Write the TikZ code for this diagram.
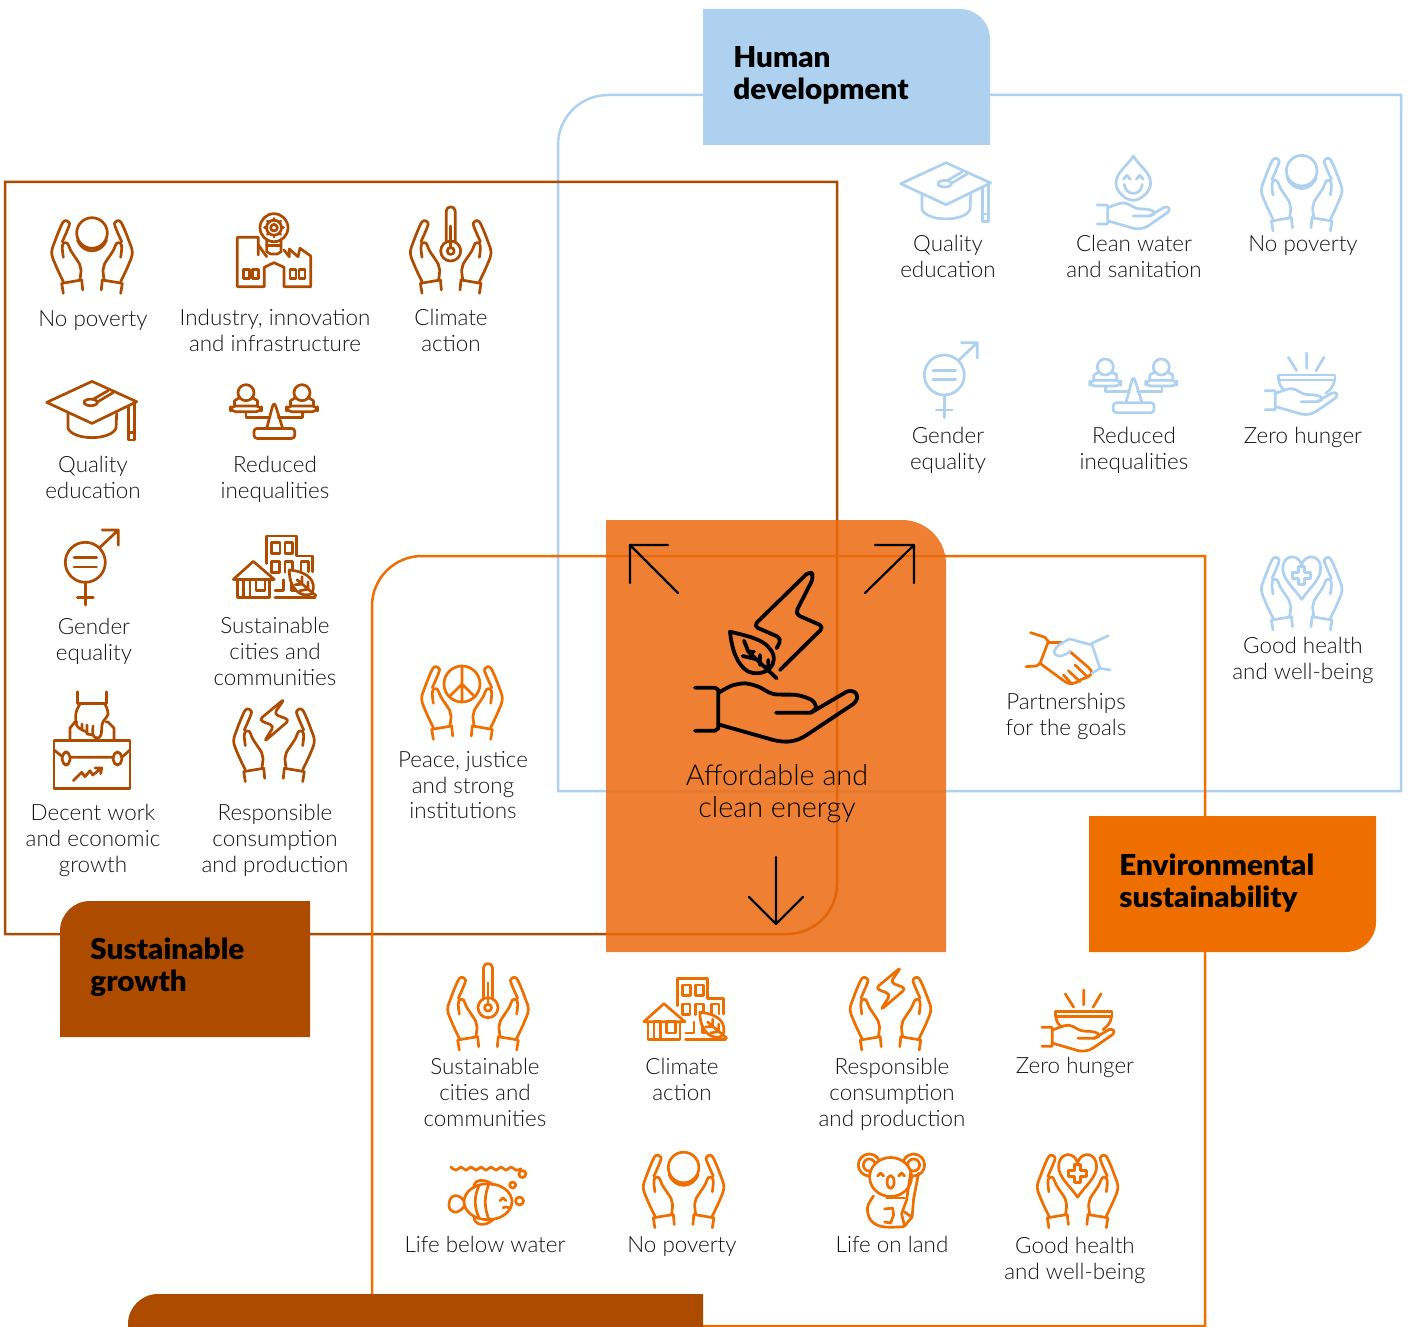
\documentclass[tikz,border=0pt]{standalone}
\usepackage{fontspec}
\setmainfont{Lato}[UprightFont=* Light,BoldFont=* Black,BoldFeatures={FakeStretch=1.03}]
\definecolor{cblue}{HTML}{AED1F0}
\definecolor{cbrown}{HTML}{AD4C00}
\definecolor{corange}{HTML}{EE6F00}
\definecolor{cpanel}{HTML}{EC6A0F}
\definecolor{ctext}{HTML}{141414}
\tikzset{
 iconline/.style={line width=1.35pt,line cap=round,line join=round},
 frameline/.style={line width=1.25pt},
 lab/.style={align=center,text=ctext,inner sep=0pt,yshift=-1.5pt,font=\fontsize{11.2}{12.9}\selectfont,execute at begin node=\strut,execute at end node=\strut},
 biglab/.style={align=center,text=black,inner sep=0pt,font=\fontsize{14.4}{16}\selectfont,execute at begin node=\strut,execute at end node=\strut},
 headlab/.style={align=left,text=black,inner sep=0pt,anchor=west,font=\fontsize{14.4}{16}\selectfont\bfseries},
 sm/.style={smooth,tension=0.6}
}
\newcommand{\IcHandL}{%
 \draw (-28.7,37.3) -- (-30.3,27.3) -- (-10.3,24) -- (-9.3,34);
 \draw plot[sm] coordinates {(-28.7,25.5)(-36,10)(-40.3,-3)(-37,-15)(-30.5,-31)(-27,-35.3)(-23.5,-34)(-23,-30)(-29.7,-14.3)};
 \draw plot[sm] coordinates {(-28.7,1.3)(-29.7,-8)(-28.5,-12.7)(-24.5,-12.7)(-21,-5)(-12.5,8)(-11,14)(-12,23.3)};
}
\newcommand{\IcHands}{\IcHandL\begin{scope}[xscale=-1]\IcHandL\end{scope}}
\newcommand{\IcCoin}{\IcHands
 \draw (0,-23) circle (15.3);
 \draw (-14.5,-16) .. controls (-9,-1.5) and (9,-1.5) .. (14.5,-16);
}
\newcommand{\IcThermo}{\IcHands
 \draw (-4.5,-13.8) -- (-4.5,-45) .. controls (-4.5,-50.5) and (4.5,-50.5) .. (4.5,-45) -- (4.5,-13.8);
 \draw (0,-5) circle (10);
 \draw (0,-5) circle (3.5);
 \draw (0,-8.5) -- (0,-30);
}
\newcommand{\IcBolt}{\IcHands
 \draw[rounded corners=2pt] (10.5,-45.5) -- (-15,-24.3) -- (0,-18.3) -- (-10,-2.5) -- (15.5,-24.3) -- (0,-30.3) -- cycle;
}
\newcommand{\IcHeart}{\IcHands
 \draw (0,6.7) .. controls (-7,-4) and (-19,-13) .. (-19,-24) .. controls (-19,-38) and (-4,-40) .. (0,-28) .. controls (4,-40) and (19,-38) .. (19,-24) .. controls (19,-13) and (7,-4) .. (0,6.7) -- cycle;
 \draw (-3,-26) -- (3,-26) -- (3,-20) -- (9,-20) -- (9,-14) -- (3,-14) -- (3,-8) -- (-3,-8) -- (-3,-14) -- (-9,-14) -- (-9,-20) -- (-3,-20) -- cycle;
}
\newcommand{\IcPeace}{\IcHands
 \draw (0,-18) circle (18);
 \draw (0,-36) -- (0,0) (0,-18) -- (-12.7,-5.3) (0,-18) -- (12.7,-5.3);
}
\newcommand{\IcCap}{%
 \draw (0,-30.3) -- (44.7,-10) -- (0,11.7) -- (-45.3,-9.3) -- cycle;
 \draw (-24,1.7) -- (-24,16.7) .. controls (-18,29) and (18,29) .. (24,16.7) -- (24.7,1.7);
 \draw (36.3,-5.7) -- (36.3,28.3) -- (42.3,28.3) -- (42.3,-7.7);
 \draw (36.3,21) -- (42.3,21);
 \draw (-1.3,-9.3) ellipse (6.7 and 3.3);
 \draw (1,-12.3) -- (16,-21) (5,-9.5) -- (21,-19);
}
\newcommand{\IcScales}{%
 \draw[rounded corners=1.5pt] (-20,26.7) rectangle (20.7,16.7);
 \draw[rounded corners=3pt] (-7.3,16.7) -- (0,-11) -- (8.7,16.7);
 \draw (-28,1) -- (-28,5.7) -- (-4.7,5.7) (4.3,5.7) -- (28.7,5.7) -- (28.7,1);
 \foreach \sx in {-28,28}{
  \draw[rounded corners=2.5pt] (\sx-15.5,-5.7) -- (\sx+15.5,-5.7) -- (\sx+15.5,0) -- (\sx-15.5,0) -- cycle;
  \draw (\sx,-19) circle (8);
  \draw (\sx-11.5,-5.7) -- (\sx-11.5,-11) -- (\sx-6,-14.3) (\sx+6,-14.3) -- (\sx+11.5,-11) -- (\sx+11.5,-5.7);
 }
}
\newcommand{\IcGender}{%
 \draw (0,0) circle (20);
 \draw (-11.3,-4.7) -- (11.3,-4.7) (-11.3,4.7) -- (11.3,4.7);
 \draw (0,20) -- (0,42.7) (-8,35) -- (8,35);
 \draw (14.7,-15) -- (33,-32.3) (17,-32.3) -- (33,-32.3) -- (33,-17);
}
\newcommand{\IcCity}{%
 \draw (-7.3,-3.3) -- (-7.3,-30.7) -- (22.7,-30.7) -- (22.7,-10.7) -- (38.7,-10.7) -- (38.7,5);
 \draw (-2.3,-24) rectangle (6,-13.3) (11,-24) rectangle (18.7,-13.3);
 \draw (-2.3,-5) rectangle (5.3,5.7);
 \draw (11,5.7) -- (11,-5) -- (18.7,-5) -- (18.7,3) (27,5) -- (27,-5) -- (34.3,-5) -- (34.3,5);
 \draw (1,30.7) -- (41,30.7);
 \draw (1,24) -- (9.3,24) -- (9.3,13) (17.7,13) -- (17.7,24) -- (24,24);
 \draw (-40.7,12.7) -- (-20.7,-5.3) -- (0.3,12.7) -- cycle;
 \draw (-36.7,12.7) -- (-36.7,30.7) -- (-4.7,30.7) -- (-4.7,12.7);
 \draw (-30.7,30.7) -- (-30.7,12.7) -- (-24,12.7) -- (-24,30.7);
 \draw (-18,12.7) rectangle (-9,24);
 \draw[fill=white] (15.3,3.3) .. controls (34,5) and (43,14) .. (38,27) .. controls (27,32) and (15,22) .. (15.3,3.3) -- cycle;
 \draw (23,13) -- (42,29) (28,17.5) -- (28,10) (28,17.5) -- (21,18) (34,22.5) -- (34,15) (34,22.5) -- (26,24);
}
\newcommand{\IcFactory}{%
 \draw (-15.7,5) -- (-15.7,-12.7) -- (-36.7,-12.7) -- (-36.7,36.7) -- (-9.7,36.7) -- (-9.7,17.3) -- (0,12.7) -- (10,17.3) -- (10,36.7) -- (36.7,36.7) -- (36.7,6) -- (26,-1.7) -- (24,6.7) -- (15.3,-1) -- (15.3,6.7) -- (10,0);
 \draw (-15.7,-5) -- (-7.3,6.7);
 \foreach \wx in {-30.7,-21.3,16,25}{\draw (\wx,19.3) rectangle ++(6,9);}
 \draw[fill=white] (-7.3,-10) -- (-7.3,1.7) -- (-3.3,4) -- (3.3,4) -- (7,1.7) -- (7,-10) -- cycle;
 \draw[fill=white] (0,-22.3) circle (14);
 \draw (-7.3,-4.5) -- (7,-4.5);
 \draw (0,-22.3) circle (3.3) (0,-22.3) circle (7.5);
 \foreach \ga in {0,45,...,315}{\draw (0,-22.3) ++(\ga:7.5) -- ++(\ga:2);}
}
\newcommand{\IcCase}{%
 \draw (-38,0.7) rectangle (38,48.3);
 \draw (-22,0) -- (-22,-12) -- (-17,-18) -- (-15,-18) (14,-18) -- (16,-18) -- (22,-12) -- (22,0);
 \draw (-14.7,-48.3) -- (-14.7,-36.7) -- (14.7,-36.7) -- (14.7,-48.3);
 \draw plot[sm] coordinates {(-12,-36)(-16,-27)(-15,-14)(-5,-8)};
 \draw plot[sm] coordinates {(13,-36)(16,-26)(10.5,-17)(9,-5)(5,-2)(1,-5)(1,-14)};
 \draw (-10,-16) -- (-10,-10) (-5,-15) -- (-5,-6) (-5,-6) -- (1,-5);
 \draw (-38,10) -- (-28.7,17.3) -- (29.7,17.3) -- (38,10);
 \draw[rounded corners=2.5pt,fill=white] (-29.7,12) rectangle (-22,25);
 \draw[rounded corners=2.5pt,fill=white] (21.3,12) rectangle (29.7,25);
 \draw (-18.7,40.7) -- (-10.3,32.3) -- (-7,36.7) -- (-2,30.7) -- (0.7,35) -- (9.7,28) (3,28) -- (9.7,28) -- (8.7,33.7);
}
\newcommand{\IcOpenHand}{%
 \draw (-36,1.7) -- (-26.5,1.7) -- (-25.7,2.5) -- (-25.7,20) -- (-26.5,20.7) -- (-36,20.7);
 \draw plot[sm] coordinates {(-25.7,4.5)(-13,0)(-6,0.5)(3,5)(14,6)(20,8)(20.5,11)(16,12.7)};
 \draw (0,12.7) -- (16,12.7) -- (31,4) .. controls (35,2.5) and (38,6) .. (34.5,9) -- (15,22.5) .. controls (10,25.5) and (5,26) .. (0,25) -- (-25.7,17.5);
}
\newcommand{\IcWater}{\IcOpenHand
 \draw (0,-47.3) .. controls (-7,-36) and (-17.3,-31) .. (-17.3,-20) .. controls (-17.3,-12) and (-8,-3) .. (0,-3) .. controls (8,-3) and (17.3,-12) .. (17.3,-20) .. controls (17.3,-31) and (7,-36) .. (0,-47.3) -- cycle;
 \draw (-9,-19) .. controls (-8,-7) and (8,-7) .. (9,-19);
 \draw (-10,-24) -- (-6.5,-28) -- (-3,-24) (3,-24) -- (6.5,-28) -- (10,-24);
}
\newcommand{\IcFood}{\IcOpenHand
 \draw (-22.7,-14) -- (34,-14) -- (34,-9) -- (-22.7,-9) -- cycle;
 \draw (-22,-9) .. controls (-22,-5) and (-20,-1) .. (-16,1.5);
 \draw (33.5,-9) .. controls (33,-3) and (29,1) .. (25,4);
 \draw (5.7,-35.7) -- (5.7,-20.7) (-12.7,-31.7) -- (-4.3,-18.3) (23,-31.7) -- (15,-18.3);
}
\newcommand{\IcFish}{%
 \draw plot[smooth,tension=0.8] coordinates {(-36,-34.7)(-31,-31.5)(-26,-34.7)(-21,-31.5)(-16,-34.7)(-11,-31.5)(-6,-34.7)(-1,-31.5)(4,-34.7)(9,-31.5)(14,-34.7)(19,-31.5)(24,-34.7)(29,-31.5)(34,-33)};
 \draw (35.4,-27.7) circle (3.5) (25.7,-16.7) circle (3) (32.5,-0.7) circle (4);
 \draw (1,0) ellipse (24 and 18);
 \draw (-23,-1) .. controls (-30,-10) and (-38,-6) .. (-38,3) .. controls (-38,11) and (-30,14) .. (-23,5);
 \draw (-13,-14) .. controls (-14,-22) and (-3,-24) .. (6,-17);
 \draw (-13,15) .. controls (-13,23) and (-3,26) .. (6,18);
 \draw (-8,-16) .. controls (-13,-5) and (-13,5) .. (-8,16);
 \draw (2,-18) .. controls (-3,-5) and (-3,5) .. (2,18);
 \draw (13,-1) -- (16,-4) -- (19,-1) (16,6) .. controls (18,5) and (20,5) .. (22,6);
}
\newcommand{\IcKoala}{%
 \draw (-21.3,-25) circle (11) (-21.3,-25) circle (6);
 \draw (23,-25) circle (11) (23,-25) circle (6);
 \draw[fill=white] (0,-13) ellipse (21 and 19.5);
 \draw (0,-8) ellipse (3.5 and 6.5);
 \draw (-13,-14) -- (-10,-17) -- (-7,-14) (8,-14) -- (11,-17) -- (14,-14);
 \draw plot[sm] coordinates {(-17,6)(-23,17)(-20,30)(-8,36.7)(13,36.7)};
 \draw (-4,8) -- (14,8);
 \draw (28,-17) -- (23,9) -- (21.5,27) -- (14,36) -- (11,24) -- (16,10) -- (20,-17);
 \draw (-6,19) -- (2,18) -- (3,25) -- (0,33) -- (-6,32);
 \draw (14,22) -- (21,27);
}
\newcommand{\icon}[4]{\begin{scope}[shift={(#2,#3)},color=#4,iconline]\csname Ic#1\endcsname\end{scope}}
\begin{document}
\begin{tikzpicture}[x=0.5pt,y=-0.5pt]
\useasboundingbox (0,0) rectangle (1410,1327);
% frames
\draw[frameline,cblue] (558,791) [rounded corners=25pt] -- (558,95) [sharp corners] -- (1401,95) -- (1401,791) -- cycle;
\draw[frameline,cbrown] (5,182) -- (837,182) [rounded corners=25pt] -- (837,934) [sharp corners] -- (5,934) -- cycle;
\draw[frameline,corange] (372,1326) [rounded corners=25pt] -- (372,556) [sharp corners] -- (1205,556) -- (1205,1326) -- cycle;
% header boxes
\fill[cblue] (703,145) -- (703,9) [rounded corners=15pt] -- (990,9) [sharp corners] -- (990,145) -- cycle;
\fill[cbrown] (310,1037) -- (60,1037) [rounded corners=15pt] -- (60,901) [sharp corners] -- (310,901) -- cycle;
\fill[corange] (1089,816) -- (1376,816) [rounded corners=15pt] -- (1376,952) [sharp corners] -- (1089,952) -- cycle;
\fill[cbrown] (703,1327) -- (128,1327) [rounded corners=15pt] -- (128,1294) [sharp corners] -- (703,1294) -- cycle;
\node[headlab] (thd) at (733,75) {Human\\development};
\node[headlab] (tsg) at (90,967) {Sustainable\\growth};
\node[headlab] (tes) at (1119,883) {Environmental\\sustainability};
% centre panel
\fill[cpanel,opacity=0.85] (606,952) -- (606,520) [rounded corners=22pt] -- (946,520) [sharp corners] -- (946,952) -- cycle;
\begin{scope}[black,line width=1.1pt,line cap=round,line join=round]
\coordinate (anw) at (630,545); \coordinate (ane) at (914,545); \coordinate (as) at (776,924);
\draw (678,593) -- (anw) (668,545) -- (anw) -- (630,583);
\draw (865,593) -- (ane) (875,545) -- (ane) -- (914,583);
\draw (776,857) -- (as) (749,897) -- (as) -- (803,897);
\end{scope}
\begin{scope}[shift={(600,520)},scale=1/3,black,line width=1.9pt,line cap=round,line join=round]
\draw (285,503) -- (345,503) -- (355,510) -- (355,625) -- (345,632) -- (285,632);
\draw plot[smooth,tension=0.5] coordinates {(358,517)(395,497)(435,490)(475,500)(520,522)(590,525)(635,540)(648,562)(633,578)};
\draw (528,578) -- (633,578) -- (740,515) .. controls (765,505) and (785,530) .. (760,552) -- (620,645) .. controls (590,665) and (560,670) .. (520,660) -- (358,614);
\draw[rounded corners=2.5pt] (530,385) -- (545,355) -- (460,318) -- (630,152) -- (642,170) -- (585,282) -- (672,320) -- (540,450);
\draw (390,335) .. controls (450,350) and (505,360) .. (520,405) .. controls (530,450) and (480,470) .. (445,455) .. controls (410,435) and (395,385) .. (390,335) -- cycle;
\draw (432,362) -- (445,395) -- (530,475) (428,408) -- (470,418) (445,395) -- (462,395) (480,405) -- (480,435) (505,440) -- (505,420);
\end{scope}
\node[biglab] (l0) at (777,795.6) {Affordable and\\clean energy};
% brown group
\icon{Coin}{92}{256}{cbrown}
\icon{Factory}{274}{250}{cbrown}
\icon{Thermo}{450.7}{256}{cbrown}
\icon{Cap}{92}{411.7}{cbrown}
\icon{Scales}{274}{411.7}{cbrown}
\icon{Gender}{85.3}{562.3}{cbrown}
\icon{City}{274}{566.7}{cbrown}
\icon{Case}{92}{740}{cbrown}
\icon{Bolt}{274}{744.3}{cbrown}
\node[lab] (b1) at (93,318) {No poverty};
\node[lab] (b2) at (275,331.5) {Industry, innovation\\and infrastructure};
\node[lab] (b3) at (451,331.5) {Climate\\action};
\node[lab] (b4) at (93,478) {Quality\\education};
\node[lab] (b5) at (275,478) {Reduced\\inequalities};
\node[lab] (b6) at (94,640) {Gender\\equality};
\node[lab] (b7) at (275,652.5) {Sustainable\\cities and\\communities};
\node[lab] (b8) at (93,839.5) {Decent work\\and economic\\growth};
\node[lab] (b9) at (275,839.5) {Responsible\\consumption\\and production};
% blue group
\icon{Cap}{946}{193}{cblue}
\icon{Water}{1133.3}{203.3}{cblue}
\icon{Coin}{1301.7}{193.7}{cblue}
\icon{Gender}{944.3}{375}{cblue}
\icon{Scales}{1133.3}{386}{cblue}
\icon{Food}{1301}{389}{cblue}
\icon{Heart}{1301.7}{592.7}{cblue}
\node[lab] (h1) at (948,257.5) {Quality\\education};
\node[lab] (h2) at (1134,257.5) {Clean water\\and sanitation};
\node[lab] (h3) at (1303,243) {No poverty};
\node[lab] (h4) at (948,449.5) {Gender\\equality};
\node[lab] (h5) at (1134,449.5) {Reduced\\inequalities};
\node[lab] (h6) at (1303,435) {Zero hunger};
\node[lab] (h7) at (1303,659) {Good health\\and well-being};
% handshake
\begin{scope}[shift={(1000,540)},scale=1/3,iconline]
\draw[corange] (92,278) -- (135,292) -- (145,305) -- (120,370) -- (110,378) -- (78,380);
\draw[corange] (145,308) -- (185,308);
\draw[corange] (120,370) -- (195,425) .. controls (210,435) and (225,432) .. (240,420) -- (265,410) .. controls (278,400) and (278,395) .. (265,382) -- (210,335);
\draw[corange] (190,405) -- (212,428) (205,392) -- (240,425) (225,375) -- (262,410);
\draw[cblue] (325,287) -- (275,310) -- (300,385) -- (330,390);
\draw[cblue] (275,315) -- (210,297) .. controls (190,305) and (165,320) .. (162,335) .. controls (165,350) and (180,355) .. (210,335);
\draw[cblue] (275,400) -- (300,385);
\end{scope}
% orange group
\icon{Peace}{462}{702}{corange}
\icon{Thermo}{488}{1012.7}{corange}
\icon{City}{684.6}{1009}{corange}
\icon{Bolt}{890.5}{1012.7}{corange}
\icon{Food}{1078}{1025.6}{corange}
\icon{Fish}{487}{1201.7}{corange}
\icon{Coin}{683.6}{1190.5}{corange}
\icon{Koala}{890.6}{1190}{corange}
\icon{Heart}{1077.6}{1190.5}{corange}
\node[lab] (o0) at (1066,715) {Partnerships\\for the goals};
\node[lab] (o1) at (463,786) {Peace, justice\\and strong\\institutions};
\node[lab] (o2) at (485,1093.5) {Sustainable\\cities and\\communities};
\node[lab] (o3) at (682,1080) {Climate\\action};
\node[lab] (o4) at (892,1093.5) {Responsible\\consumption\\and production};
\node[lab] (o5) at (1075,1065.5) {Zero hunger};
\node[lab] (o6) at (485,1244) {Life below water};
\node[lab] (o7) at (682,1244) {No poverty};
\node[lab] (o8) at (892,1244) {Life on land};
\node[lab] (o9) at (1075,1259) {Good health\\and well-being};
\end{tikzpicture}
\end{document}
